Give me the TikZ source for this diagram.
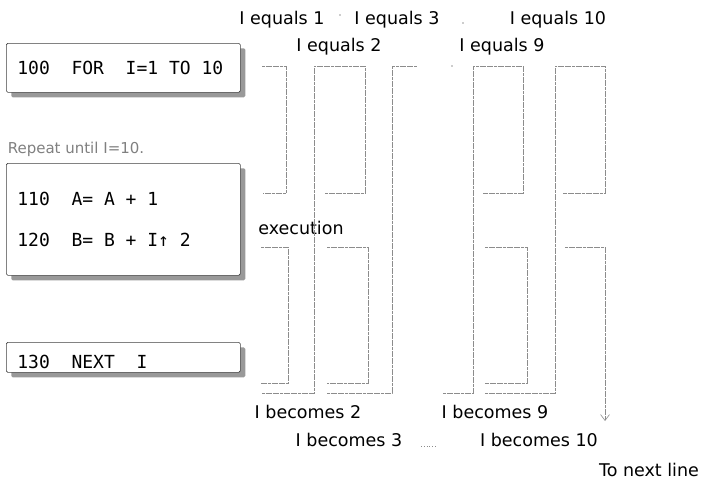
\documentclass[tikz,border=0pt]{standalone}
\usepackage{fontspec}
\setmainfont{DejaVu Sans}
\newfontfamily\codefont{DejaVu Sans Mono}
\newcommand\csp{\hspace*{0.602em}}
\usetikzlibrary{arrows.meta,shadows}

\begin{document}
\begin{tikzpicture}[
    x=1pt, y=-1pt,
    >={Straight Barb[length=6pt,width=9pt]},
    flow/.style={draw=black!45, line width=0.6pt, dash pattern=on 3pt off 0.6pt},
    codebox/.style={draw=black!75, line width=0.7pt, fill=white, rounded corners=1.5pt,
      anchor=north west, minimum width=234pt, text width=212pt, inner xsep=11pt,
      inner ysep=0pt, align=left, font=\codefont\fontsize{18}{41}\selectfont,
      drop shadow={shadow xshift=5pt, shadow yshift=-5pt, fill=black!40, opacity=1}},
    lab/.style={font=\fontsize{17.5}{20}\selectfont, inner sep=0pt, anchor=base},
  ]
  \useasboundingbox (0,0) rectangle (701,482);

  % program lines
  \node[codebox, minimum height=49pt] (for) at (6,43) {100\csp\csp FOR\csp\csp I=1\csp TO\csp 10};
  \node[lab, font=\fontsize{15}{18}\selectfont, text=black!50] (repeat) at (76,153) {Repeat until I=10.};
  \node[codebox, minimum height=112pt] (body) at (6,163)
    {110\csp\csp A=\csp A\csp+\csp 1\\120\csp\csp B=\csp B\csp+\csp I↑\csp 2};
  \node[codebox, minimum height=30pt, text height=26pt, text depth=4pt] (next) at (6,342)
    {130\csp\csp NEXT\csp\csp I};

  % labels
  \node[lab] (eq1) at (282,24) {I equals 1};
  \node[lab] (eq3) at (397,24) {I equals 3};
  \node[lab] (eq10) at (558,24) {I equals 10};
  \node[lab] (eq2) at (339,51) {I equals 2};
  \node[lab] (eq9) at (502,51) {I equals 9};
  \node[lab] (exec) at (301,234) {execution};
  \node[lab] (bc2) at (308,418) {I becomes 2};
  \node[lab] (bc9) at (495,418) {I becomes 9};
  \node[lab] (bc3) at (349,446) {I becomes 3};
  \node[lab] (bc10) at (539,446) {I becomes 10};
  \node[lab] (nextline) at (649,476) {To next line};

  % continuation dots
  \fill[black!40] (340,15) circle (0.9);
  \fill[black!40] (463,23) circle (0.9);
  \fill[black!40] (452,66) circle (0.8);
  \draw[black!45, line width=0.8pt, dash pattern=on 0.8pt off 2pt] (421,446) -- (437,446);

  % I=1
  \coordinate (in1) at (262,66);   \coordinate (out1) at (263,193);
  \draw[flow] (in1) -- ++(24,0) |- (out1);
  \coordinate (in1b) at (261,247); \coordinate (out1b) at (261,383);
  \draw[flow] (in1b) -- ++(27,0) |- (out1b);
  % I=2
  \coordinate (back2) at (262,393); \coordinate (out2) at (325,193);
  \draw[flow] (back2) -- ++(52,0) -- ++(0,-327) -- ++(51,0) |- (out2);
  \coordinate (in2b) at (327,247); \coordinate (out2b) at (327,383);
  \draw[flow] (in2b) -- ++(41,0) |- (out2b);
  \coordinate (back3) at (327,393); \coordinate (cont3) at (417,66);
  \draw[flow] (back3) -| ++(65,-327) -- (cont3);
  % I=9
  \coordinate (back9) at (443,393); \coordinate (out9) at (483,193);
  \draw[flow] (back9) -- ++(30,0) -- ++(0,-327) -- ++(50,0) |- (out9);
  \coordinate (in9b) at (485,247); \coordinate (out9b) at (485,383);
  \draw[flow] (in9b) -- ++(42,0) |- (out9b);
  % I=10
  \coordinate (back10) at (485,393); \coordinate (out10) at (563,193);
  \draw[flow] (back10) -- ++(70,0) -- ++(0,-327) -- ++(50,0) |- (out10);
  \coordinate (in10b) at (565,247); \coordinate (exit) at (605,421);
  \draw[flow, ->] (in10b) -| (exit);
\end{tikzpicture}
\end{document}
